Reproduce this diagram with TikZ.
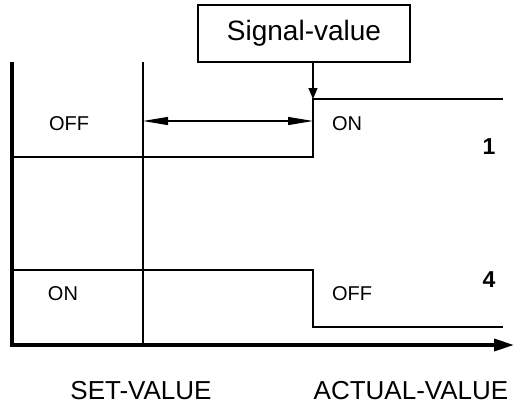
\documentclass[tikz,border=0pt]{standalone}
\usepackage{fontspec}
\setmainfont{Liberation Sans}
\usetikzlibrary{arrows.meta}

\begin{document}
\begin{tikzpicture}[x=1pt, y=-1pt,
		thinline/.style={line width=1.2pt},
		axisline/.style={line width=3.6pt},
		lbl/.style={font=\fontsize{20}{24}\selectfont},
		num/.style={font=\fontsize{23}{27}\selectfont\bfseries},
		axislbl/.style={font=\fontsize{26}{30}\selectfont}]
			%%%%% START %%%%%
			\useasboundingbox (0, 0) rectangle (515, 405);
			
			% signal box and its arrow
			\node[draw, thinline, minimum width=212pt, minimum height=57pt, inner sep=0pt,
				font=\fontsize{28}{32}\selectfont] (sig) at (304, 33.5) {Signal-value};
			\coordinate (hit) at (313, 99);
			\draw[thinline, -{Triangle[length=11pt, width=9pt]}] (sig.south -| hit) -- (hit);
			
			% axes
			\draw[axisline, -{Triangle[length=20pt, width=12pt]}] (12, 62) -- (12, 345) -- (514, 345);
			\draw[thinline] (143, 62) -- (143, 345);
			
			% switching curve 1
			\draw[thinline] (12, 157) -- (313, 157) -- (hit) -- (503, 99);
			\draw[thinline, {Triangle[length=25pt, width=8pt]}-{Triangle[length=25pt, width=8pt]}] (143, 121) -- (313, 121);
			
			% switching curve 4
			\draw[thinline] (12, 270) -- (313, 270) -- (313, 327) -- (503, 327);
			
			\node[lbl] (off1) at (69, 124) {OFF};
			\node[lbl] (on1) at (347, 124) {ON};
			\node[num] (n1) at (489, 147) {1};
			\node[lbl] (on4) at (63, 294) {ON};
			\node[lbl] (off4) at (352, 294) {OFF};
			\node[num] (n4) at (489, 280) {4};
			
			\node[axislbl] (setv) at (141, 391) {SET-VALUE};
			\node[axislbl] (actv) at (411, 391) {ACTUAL-VALUE};
			%%%%% END %%%%%
\end{tikzpicture}
\end{document}
